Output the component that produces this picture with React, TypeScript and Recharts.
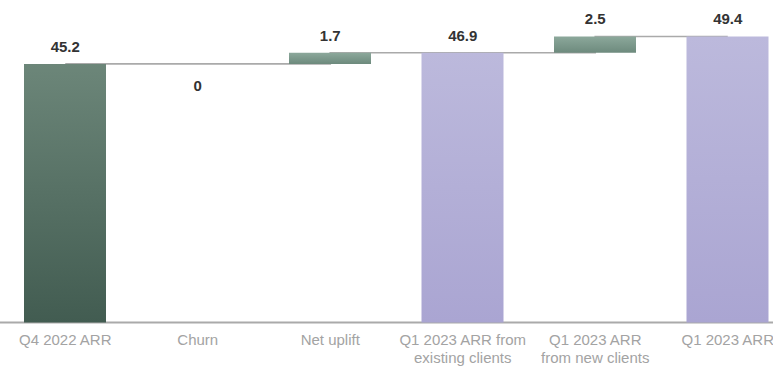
import { ComposedChart, Bar, Line, XAxis, YAxis, Cell, LabelList } from 'recharts';

const categories = [
    'Q4 2022 ARR',
    'Churn',
    'Net uplift',
    'Q1 2023 ARR from existing clients',
    'Q1 2023 ARR from new clients',
    'Q1 2023 ARR',
];

const tickLines = [
    ['Q4 2022 ARR'],
    ['Churn'],
    ['Net uplift'],
    ['Q1 2023 ARR from', 'existing clients'],
    ['Q1 2023 ARR', 'from new clients'],
    ['Q1 2023 ARR'],
];

const values = [45.2, 0, 1.7, 46.9, 2.5, 49.4];

// start = opening total, delta = change, total = closing total
const kinds = ['start', 'delta', 'delta', 'total', 'delta', 'total'];

// value axis does not start at zero in the original
const AXIS_FLOOR = 5.7;
const AXIS_TOP = 50;

const FILLS: Record<string, string> = {
    start: 'url(#gradStart)',
    delta: 'url(#gradDelta)',
    total: 'url(#gradTotal)',
};

const FONT = "'Liberation Sans', Arial, sans-serif";

let running = 0;
const data = categories.map((name, i) => {
    const isTotal = kinds[i] !== 'delta';
    const low = isTotal ? AXIS_FLOOR : running;
    running = isTotal ? values[i] : running + values[i];
    return { name, range: [low, running], running, label: values[i] };
});

const renderTick = (props: any) => {
    const { x, y, payload } = props;
    const idx = categories.indexOf(payload.value);
    const lines = tickLines[idx] ?? [payload.value];
    return (
        <text x={x} y={y} textAnchor="middle" fill="#a3a3a3" fontSize={15} fontFamily={FONT}>
            {lines.map((l, i) => (
                <tspan key={i} x={x} dy={i === 0 ? 14 : 18}>{l}</tspan>
            ))}
        </text>
    );
};

// labels sit on the running-total line so the zero step keeps its label
const renderLabel = (props: any) => {
    const { x, y, value } = props;
    const ty = value === 0 ? Number(y) + 27 : Number(y) - 12;
    return (
        <text x={x} y={ty} textAnchor="middle" fill="#333" fontSize={15} fontWeight={700} fontFamily={FONT}>
            {value}
        </text>
    );
};

const chartProps = {
    width: 795,
    height: 367,
    data,
    margin: { top: 32.5, right: 0, bottom: 0, left: 0 },
    style: { position: 'absolute' as const, left: -1, top: 0 },
};

const axes = (showX: boolean) => [
    <XAxis
        key="x"
        dataKey="name"
        interval={0}
        tickLine={false}
        axisLine={showX ? { stroke: '#aaaaaa', strokeWidth: 2 } : false}
        height={44.5}
        tick={showX ? renderTick : false}
    />,
    <YAxis key="y" hide domain={[AXIS_FLOOR, AXIS_TOP]} />,
];

export default function App() {
    return (
        <div style={{ position: 'fixed', left: 0, top: 0, width: 773, height: 367, overflow: 'hidden', background: '#fff' }}>
            {/* connector line underneath */}
            <ComposedChart {...chartProps}>
                {axes(true)}
                {/* invisible bar keeps the same band layout as the chart above */}
                <Bar dataKey="range" barSize={82} fill="none" isAnimationActive={false} />
                <Line
                    dataKey="running"
                    type="stepAfter"
                    stroke="#aaaaaa"
                    strokeWidth={1.6}
                    dot={false}
                    activeDot={false}
                    isAnimationActive={false}
                >
                    <LabelList dataKey="label" content={renderLabel} />
                </Line>
            </ComposedChart>
            {/* bars on top */}
            <ComposedChart {...chartProps}>
                <defs>
                    <linearGradient id="gradStart" x1="0" y1="0" x2="0" y2="1">
                        <stop offset="0%" stopColor="#6c8679" />
                        <stop offset="100%" stopColor="#425c51" />
                    </linearGradient>
                    <linearGradient id="gradDelta" x1="0" y1="0" x2="0" y2="1">
                        <stop offset="0%" stopColor="#8ca89b" />
                        <stop offset="100%" stopColor="#6d8a7d" />
                    </linearGradient>
                    <linearGradient id="gradTotal" x1="0" y1="0" x2="0" y2="1">
                        <stop offset="0%" stopColor="#bcb9dc" />
                        <stop offset="100%" stopColor="#aaa5d2" />
                    </linearGradient>
                </defs>
                {axes(false)}
                <Bar dataKey="range" barSize={82} isAnimationActive={false}>
                    {data.map((_, i) => (
                        <Cell key={`cell-${i}`} fill={FILLS[kinds[i]]} />
                    ))}
                </Bar>
            </ComposedChart>
        </div>
    );
}
